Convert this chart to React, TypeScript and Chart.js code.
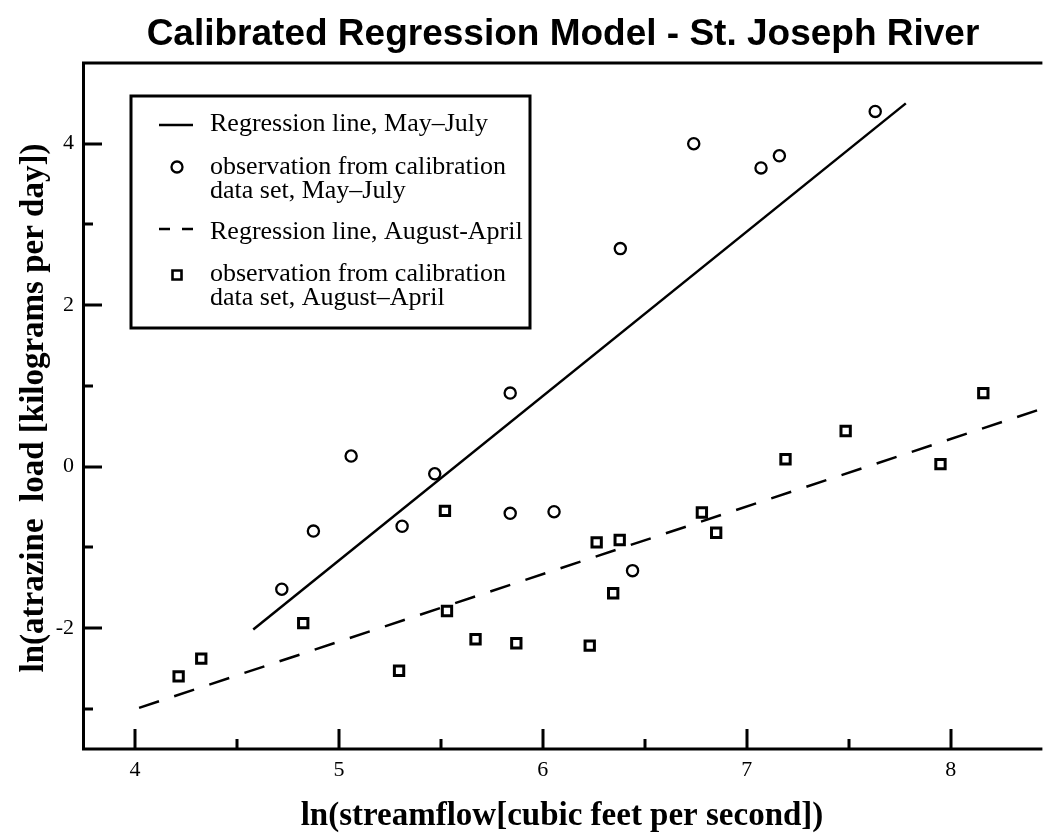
import React, { useEffect, useRef } from 'react';
import { Chart, registerables } from 'chart.js';

Chart.register(...registerables);

const TITLE = 'Calibrated Regression Model - St. Joseph River';
const X_TITLE = 'ln(streamflow[cubic feet per second])';
const Y_TITLE = 'ln(atrazine  load [kilograms per day])';

// observations, May–July (circles)
const mayJulyX = [4.72, 4.875, 5.06, 5.31, 5.47, 5.84, 5.84, 6.055, 6.44, 6.38, 6.74, 7.07, 7.16, 7.63];
const mayJulyY = [-1.52, -0.8, 0.13, -0.74, -0.09, 0.91, -0.58, -0.56, -1.29, 2.7, 4.0, 3.7, 3.85, 4.4];

// observations, August–April (squares)
const augAprX = [4.214, 4.325, 4.825, 5.295, 5.52, 5.53, 5.67, 5.87, 6.23, 6.264, 6.345, 6.377, 6.78, 6.85, 7.19, 7.485, 7.95, 8.16];
const augAprY = [-2.6, -2.38, -1.94, -2.53, -0.55, -1.79, -2.14, -2.19, -2.22, -0.94, -1.57, -0.91, -0.57, -0.82, 0.09, 0.44, 0.03, 0.91];

// regression lines (end points)
const mayJulyLineX = [4.58, 7.78];
const mayJulyLineY = [-2.02, 4.5];
const augAprLineX = [4.02, 8.44];
const augAprLineY = [-2.99, 0.71];

const xMajorTicks = [4, 5, 6, 7, 8];
const xMinorTicks = [4.5, 5.5, 6.5, 7.5];
const yMajorTicks = [-2, 0, 2, 4];
const yMinorTicks = [-3, -1, 1, 3];

const legendItems = [
  { kind: 'solid', lines: ['Regression line, May\u2013July'] },
  { kind: 'circle', lines: ['observation from calibration', 'data set, May\u2013July'] },
  { kind: 'dashed', lines: ['Regression line, August-April'] },
  { kind: 'square', lines: ['observation from calibration', 'data set, August\u2013April'] },
];

const zip = (xs: number[], ys: number[]) => xs.map((x, i) => ({ x, y: ys[i] }));

const SERIF = '"Liberation Serif", "DejaVu Serif", serif';
const SANS = '"Liberation Sans", Arial, sans-serif';

const decorPlugin = {
  id: 'decor',
  afterDraw(chart: any) {
    const ctx = chart.ctx as CanvasRenderingContext2D;
    const { left, right, top, bottom } = chart.chartArea;
    const xs = chart.scales.x;
    const ys = chart.scales.y;
    ctx.save();
    ctx.strokeStyle = '#000';
    ctx.fillStyle = '#000';
    ctx.lineCap = 'butt';
    // frame
    ctx.lineWidth = 3;
    ctx.beginPath();
    ctx.moveTo(right + 2, top);
    ctx.lineTo(left - 0.5, top);
    ctx.lineTo(left - 0.5, bottom);
    ctx.lineTo(right + 2, bottom);
    ctx.stroke();
    // ticks (inward)
    ctx.lineWidth = 3;
    ctx.beginPath();
    xMajorTicks.forEach((v) => {
      const px = Math.round(xs.getPixelForValue(v));
      ctx.moveTo(px, bottom);
      ctx.lineTo(px, bottom - 20);
    });
    xMinorTicks.forEach((v) => {
      const px = Math.round(xs.getPixelForValue(v));
      ctx.moveTo(px, bottom);
      ctx.lineTo(px, bottom - 10);
    });
    yMajorTicks.forEach((v) => {
      const py = Math.round(ys.getPixelForValue(v));
      ctx.moveTo(left, py);
      ctx.lineTo(left + 18, py);
    });
    yMinorTicks.forEach((v) => {
      const py = Math.round(ys.getPixelForValue(v));
      ctx.moveTo(left, py);
      ctx.lineTo(left + 9, py);
    });
    ctx.stroke();

    // title
    ctx.font = `bold 37px ${SANS}`;
    ctx.textAlign = 'center';
    ctx.textBaseline = 'alphabetic';
    ctx.fillText(TITLE, 563, 45);

    // axis titles
    ctx.font = `bold 33px ${SERIF}`;
    ctx.fillText(X_TITLE, 562, 825);
    ctx.save();
    ctx.translate(43, (top + bottom) / 2 + 2);
    ctx.rotate(-Math.PI / 2);
    ctx.fillText(Y_TITLE, 0, 0);
    ctx.restore();

    // legend
    const bx = 131, by = 96, bw = 399, bh = 232;
    ctx.fillStyle = '#fff';
    ctx.fillRect(bx, by, bw, bh);
    ctx.fillStyle = '#000';
    ctx.lineWidth = 3;
    ctx.strokeRect(bx, by, bw, bh);
    ctx.font = `26px ${SERIF}`;
    ctx.textAlign = 'left';
    const baselines = [[131], [174, 198], [239], [281, 305]];
    const symY = [125, 167, 229, 275];
    legendItems.forEach((item, i) => {
      item.lines.forEach((t, j) => ctx.fillText(t, 210, baselines[i][j]));
      const sy = symY[i];
      ctx.beginPath();
      if (item.kind === 'solid') {
        ctx.lineWidth = 2.5;
        ctx.moveTo(159, sy);
        ctx.lineTo(193, sy);
        ctx.stroke();
      } else if (item.kind === 'dashed') {
        ctx.lineWidth = 2.5;
        ctx.moveTo(159, sy);
        ctx.lineTo(170, sy);
        ctx.moveTo(182, sy);
        ctx.lineTo(193, sy);
        ctx.stroke();
      } else if (item.kind === 'circle') {
        ctx.lineWidth = 2.3;
        ctx.arc(177, sy, 5.5, 0, Math.PI * 2);
        ctx.stroke();
      } else {
        ctx.lineWidth = 2.6;
        ctx.rect(172.5, sy - 4.5, 9, 9);
        ctx.stroke();
      }
    });
    ctx.restore();
  },
};

export default function App() {
  const ref = useRef<HTMLCanvasElement | null>(null);
  useEffect(() => {
    document.body.style.margin = '0';
    const canvas = ref.current;
    if (!canvas) return;
    const chart = new Chart(canvas, {
      type: 'scatter',
      data: {
        datasets: [
          {
            label: 'Regression line, May–July',
            data: zip(mayJulyLineX, mayJulyLineY),
            showLine: true,
            borderColor: '#000',
            borderWidth: 2.5,
            pointRadius: 0,
          },
          {
            label: 'Regression line, August-April',
            data: zip(augAprLineX, augAprLineY),
            showLine: true,
            borderColor: '#000',
            borderWidth: 2.5,
            borderDash: [21, 16],
            pointRadius: 0,
          },
          {
            label: 'observation from calibration data set, May–July',
            data: zip(mayJulyX, mayJulyY),
            pointStyle: 'circle',
            pointRadius: 5.6,
            borderWidth: 2.3,
            borderColor: '#000',
            backgroundColor: 'rgba(0,0,0,0)',
          },
          {
            label: 'observation from calibration data set, August–April',
            data: zip(augAprX, augAprY),
            pointStyle: 'rect',
            pointRadius: 6.6,
            borderWidth: 3,
            borderColor: '#000',
            backgroundColor: 'rgba(0,0,0,0)',
          },
        ],
      },
      options: {
        animation: false,
        responsive: false,
        devicePixelRatio: 1,
        layout: { padding: { top: 63, left: 0, right: 0, bottom: 0 } },
        plugins: { legend: { display: false }, tooltip: { enabled: false }, title: { display: false } },
        scales: {
          x: {
            type: 'linear',
            min: 3.75,
            max: 8.44,
            grid: { display: false, drawTicks: false, tickLength: 0 },
            border: { display: false },
            ticks: {
              color: '#000',
              font: { family: SERIF, size: 22 },
              padding: 8,
              autoSkip: false,
              maxRotation: 0,
              callback: (v: any) => String(v),
            },
            afterBuildTicks: (s: any) => {
              s.ticks = xMajorTicks.map((v) => ({ value: v }));
            },
            afterFit: (s: any) => {
              s.height = 85;
            },
          },
          y: {
            type: 'linear',
            min: -3.5,
            max: 5,
            grid: { display: false, drawTicks: false, tickLength: 0 },
            border: { display: false },
            ticks: {
              color: '#000',
              font: { family: SERIF, size: 22 },
              padding: 10,
              autoSkip: false,
              callback: (v: any) => String(v),
            },
            afterBuildTicks: (s: any) => {
              s.ticks = yMajorTicks.map((v) => ({ value: v }));
            },
            afterFit: (s: any) => {
              s.width = 84;
            },
          },
        },
      },
      plugins: [decorPlugin],
    });
    return () => chart.destroy();
  }, []);
  return (
    <div style={{ width: 1050, height: 834 }}>
      <canvas ref={ref} width={1050} height={834} style={{ display: 'block' }} />
    </div>
  );
}
